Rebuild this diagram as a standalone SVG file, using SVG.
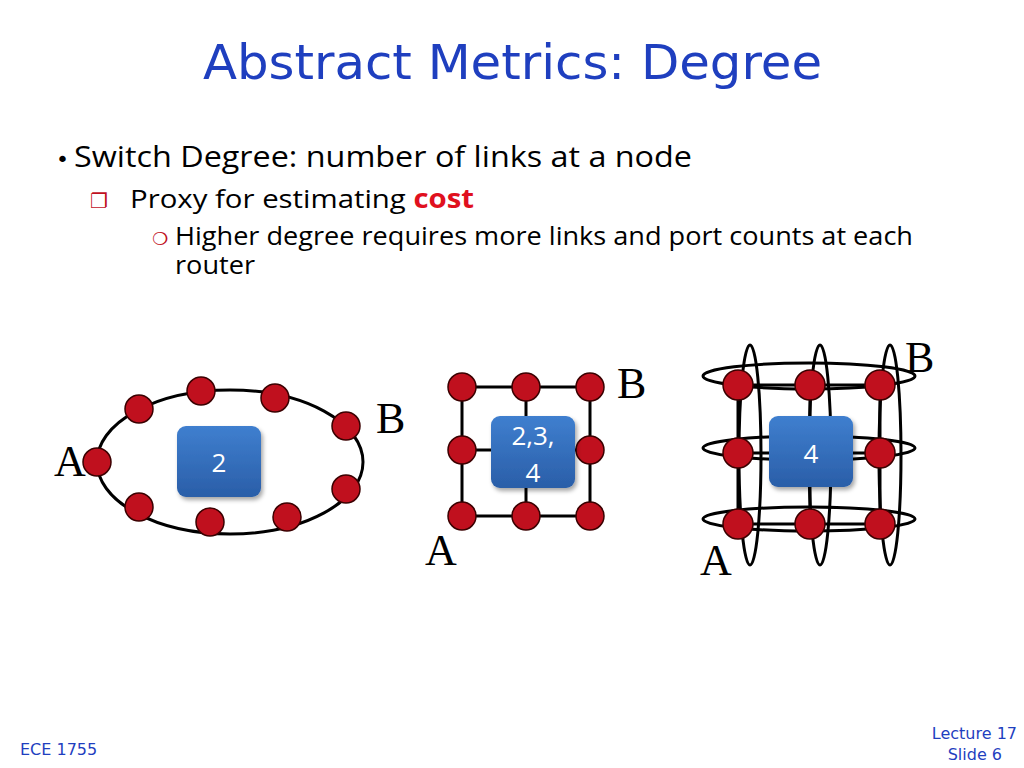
<svg xmlns="http://www.w3.org/2000/svg" width="1024" height="768" viewBox="0 0 1024 768">
<defs>
<linearGradient id="bg" x1="0" y1="0" x2="0" y2="1"><stop offset="0" stop-color="#3f7fcf"/><stop offset="1" stop-color="#2a5ea8"/></linearGradient>
<filter id="sh" x="-20%" y="-20%" width="150%" height="150%"><feDropShadow dx="2" dy="3" stdDeviation="2" flood-opacity="0.35"/></filter>
</defs>
<style>
.n{fill:#c0101e;stroke:#3a0000;stroke-width:1.5}
.l{fill:none;stroke:#000;stroke-width:3}
.t{font-family:"Open Sans","Liberation Sans",sans-serif;fill:#000}
.lb{font-family:"Liberation Serif",serif;font-size:44px;fill:#000}
.bx{fill:url(#bg);filter:url(#sh)}
.bt{font-family:"Open Sans","Liberation Sans",sans-serif;font-size:26px;fill:#fff;text-anchor:middle}
.f{font-family:"DejaVu Sans",sans-serif;font-size:16px;fill:#1f3fbf}
</style>
<rect width="1024" height="768" fill="#fff"/>
<text x="203" y="79" font-family="DejaVu Sans, sans-serif" font-size="48" fill="#1f3fbf" textLength="619" lengthAdjust="spacingAndGlyphs">Abstract Metrics: Degree</text>
<text x="56" y="167" font-family="DejaVu Sans,sans-serif" font-size="22">•</text>
<text class="t" x="74" y="167" font-size="29" textLength="618" lengthAdjust="spacingAndGlyphs">Switch Degree: number of links at a node</text>
<text x="90" y="208" font-family="DejaVu Sans,sans-serif" font-size="20" fill="#c0101e">❐</text>
<text class="t" x="130" y="208" font-size="26" textLength="344" lengthAdjust="spacingAndGlyphs">Proxy for estimating <tspan fill="#e0101e" font-weight="bold">cost</tspan></text>
<text x="152" y="245" font-family="DejaVu Sans,sans-serif" font-size="18" fill="#c0101e">❍</text>
<text class="t" x="175" y="245" font-size="25" textLength="738" lengthAdjust="spacingAndGlyphs">Higher degree requires more links and port counts at each</text>
<text class="t" x="175" y="274" font-size="25" textLength="80" lengthAdjust="spacingAndGlyphs">router</text>
<g id="connectors">
<ellipse class="l" cx="230" cy="462" rx="133" ry="72"/>
<path class="l" d="M462 387H590V516H462Z M526 387V516 M462 450H590"/>
<path class="l" d="M738 385H880 M738 453H880 M738 524H880 M738 385V524 M810 385V524 M880 385V524"/>
<ellipse class="l" cx="809" cy="376" rx="106" ry="13"/>
<ellipse class="l" cx="809" cy="448" rx="106" ry="12"/>
<ellipse class="l" cx="809" cy="519" rx="106" ry="12"/>
<ellipse class="l" cx="750" cy="455" rx="11" ry="110"/>
<ellipse class="l" cx="820" cy="455" rx="11" ry="110"/>
<ellipse class="l" cx="890" cy="455" rx="11" ry="110"/>
</g>
<g id="ring">
<circle class="n" cx="97" cy="462" r="14"/><circle class="n" cx="139" cy="409" r="14"/><circle class="n" cx="201" cy="391" r="14"/><circle class="n" cx="275" cy="398" r="14"/><circle class="n" cx="346" cy="426" r="14"/><circle class="n" cx="346" cy="489" r="14"/><circle class="n" cx="287" cy="517" r="14"/><circle class="n" cx="210" cy="522" r="14"/><circle class="n" cx="139" cy="507" r="14"/>
<rect class="bx" x="177" y="426" width="84" height="71" rx="9"/><text class="bt" x="219" y="472">2</text>
<text class="lb" x="54" y="476">A</text><text class="lb" x="376" y="433">B</text>
</g>
<g id="mesh">
<circle class="n" cx="462" cy="387" r="14"/><circle class="n" cx="526" cy="387" r="14"/><circle class="n" cx="590" cy="387" r="14"/>
<circle class="n" cx="462" cy="450" r="14"/><circle class="n" cx="590" cy="450" r="14"/>
<circle class="n" cx="462" cy="516" r="14"/><circle class="n" cx="526" cy="516" r="14"/><circle class="n" cx="590" cy="516" r="14"/>
<rect class="bx" x="491" y="416" width="84" height="72" rx="9"/><text class="bt" x="533" y="445">2,3,</text><text class="bt" x="533" y="482">4</text>
<text class="lb" x="425" y="565">A</text><text class="lb" x="617" y="398">B</text>
</g>
<g id="torus">
<circle class="n" cx="738" cy="385" r="15"/><circle class="n" cx="810" cy="385" r="15"/><circle class="n" cx="880" cy="385" r="15"/>
<circle class="n" cx="738" cy="453" r="15"/><circle class="n" cx="880" cy="453" r="15"/>
<circle class="n" cx="738" cy="524" r="15"/><circle class="n" cx="810" cy="524" r="15"/><circle class="n" cx="880" cy="524" r="15"/>
<rect class="bx" x="769" y="416" width="84" height="71" rx="9"/><text class="bt" x="811" y="463">4</text>
<text class="lb" x="700" y="575">A</text><text class="lb" x="905" y="372">B</text>
</g>
<text class="f" x="20" y="755">ECE 1755</text>
<text class="f" x="1017" y="739" text-anchor="end">Lecture 17</text>
<text class="f" x="1002" y="760" text-anchor="end">Slide 6</text>
</svg>
